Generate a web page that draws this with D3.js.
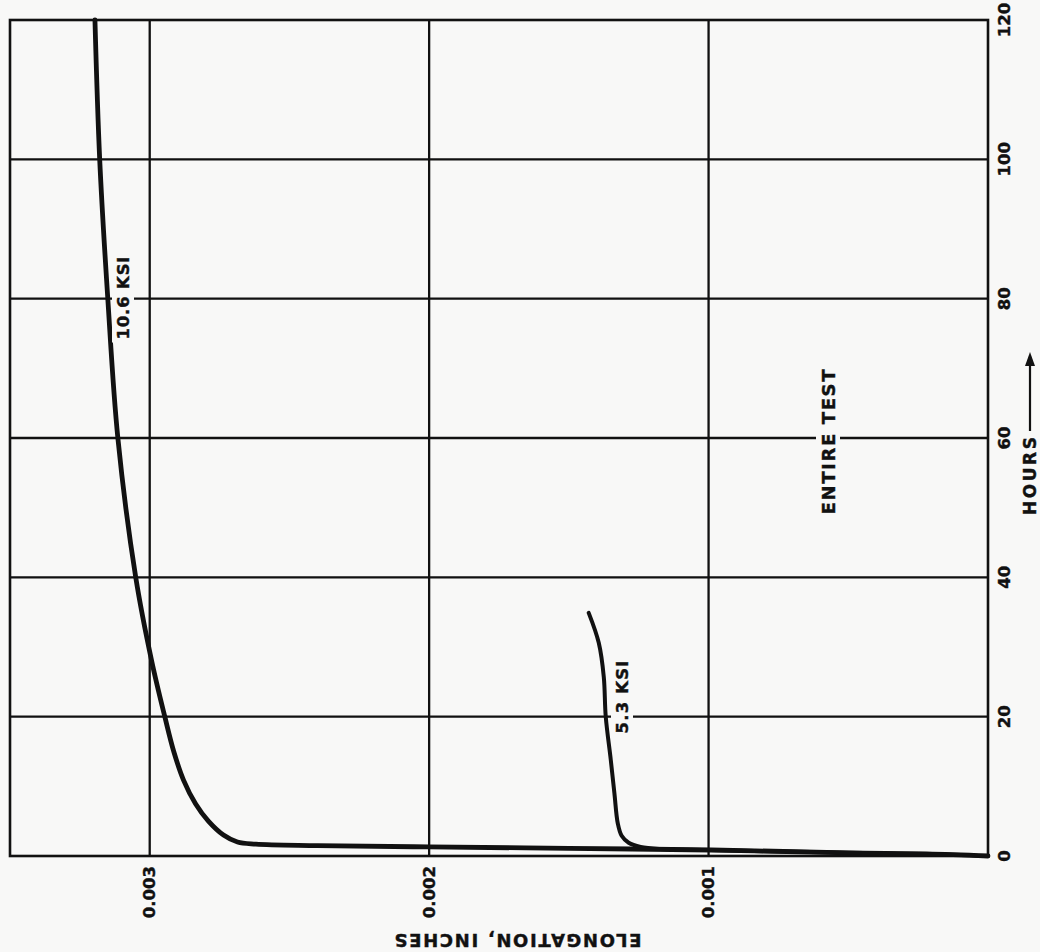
<!DOCTYPE html>
<html>
<head>
<meta charset="utf-8">
<script src="https://cdn.jsdelivr.net/npm/d3@7/dist/d3.min.js"></script>
<style>
  html, body { margin: 0; padding: 0; background: #f8f8f7; }
  svg { display: block; }
  text { font-family: "DejaVu Sans", "Liberation Sans", Arial, sans-serif; font-weight: bold; fill: #111; stroke: #111; stroke-width: 0.4px; }
</style>
</head>
<body>
<script>
// Creep test: elongation (inches) against time (hours), two stress levels.
const elongTicks = [0.003, 0.002, 0.001];
const elongTickLabels = ["0.003", "0.002", "0.001"];
const hourTicks = [0, 20, 40, 60, 80, 100, 120];
const hourTickLabels = ["0", "20", "40", "60", "80", "100", "120"];

// 10.6 KSI series
const elong106 = [0, 0.00022, 0.0005, 0.00099, 0.0015, 0.002, 0.0024, 0.00262,
                  0.002686, 0.002736, 0.00279, 0.002836, 0.002879, 0.002914, 0.002946,
                  0.002993, 0.003050, 0.003114, 0.003150, 0.003179, 0.003196];
const hours106  = [0, 0.3, 0.45, 0.86, 1.1, 1.3, 1.5, 1.7,
                   2.0, 3.0, 5.0, 7.5, 10.9, 15, 20,
                   28, 40, 60, 80, 100, 120];

// 5.3 KSI series
const elong53 = [0, 0.00022, 0.0005, 0.00099, 0.00117, 0.001243, 0.001286, 0.001311,
                 0.001325, 0.001337, 0.00135, 0.001368, 0.001375, 0.001393, 0.001429];
const hours53 = [0, 0.3, 0.45, 0.86, 1.0, 1.3, 1.9, 2.9,
                 4.7, 9.0, 13.8, 20, 25.7, 30.6, 34.9];

const W = 1040, H = 952;
const ink = "#111";
const bg = "#f8f8f7";

const svg = d3.select("body").append("svg").attr("width", W).attr("height", H);

const x = d3.scaleLinear().domain([0.0035, 0]).range([10, 988]);
const y = d3.scaleLinear().domain([0, 120]).range([856, 20]);

// grid
const grid = svg.append("g").attr("stroke", ink).attr("stroke-width", 2.3).attr("fill", "none");
grid.selectAll("line.v").data(elongTicks).join("line")
  .attr("x1", d => x(d)).attr("x2", d => x(d))
  .attr("y1", y(120)).attr("y2", y(0));
grid.selectAll("line.h").data(hourTicks.filter(h => h > 0 && h < 120)).join("line")
  .attr("x1", x(0.0035)).attr("x2", x(0))
  .attr("y1", d => y(d)).attr("y2", d => y(d));

// frame
svg.append("rect")
  .attr("x", x(0.0035)).attr("y", y(120))
  .attr("width", x(0) - x(0.0035)).attr("height", y(0) - y(120))
  .attr("fill", "none").attr("stroke", ink).attr("stroke-width", 2.6);

// curves
const line = d3.line().curve(d3.curveCatmullRom.alpha(0.5));
const pts106 = elong106.map((e, i) => [x(e), y(hours106[i])]);
const pts53 = elong53.map((e, i) => [x(e), y(hours53[i])]);
svg.append("path").attr("d", line(pts106))
  .attr("fill", "none").attr("stroke", ink).attr("stroke-width", 4.8)
  .attr("stroke-linecap", "round").attr("stroke-linejoin", "round");
svg.append("path").attr("d", line(pts53))
  .attr("fill", "none").attr("stroke", ink).attr("stroke-width", 4)
  .attr("stroke-linecap", "round").attr("stroke-linejoin", "round");

// labels drawn vertically inside the plot, with a gap cut in the grid behind them
function vLabel(cx, cy, txt, len, fs, gapW) {
  svg.append("rect")
    .attr("x", cx - gapW / 2).attr("y", cy - len / 2 - 3)
    .attr("width", gapW).attr("height", len + 6)
    .attr("fill", bg);
  svg.append("text")
    .attr("transform", `translate(${cx},${cy}) rotate(-90)`)
    .attr("text-anchor", "middle").attr("dominant-baseline", "central")
    .attr("font-size", fs)
    .attr("textLength", len).attr("lengthAdjust", "spacing")
    .text(txt);
}
vLabel(123, 298, "10.6 KSI", 83, 16.5, 22);
vLabel(622, 697, "5.3 KSI", 73, 16.5, 22);
vLabel(828, 442, "ENTIRE TEST", 145, 18, 24);

// hour tick labels (right side)
svg.append("g").selectAll("text").data(hourTicks).join("text")
  .attr("transform", d => `translate(1004,${y(d)}) rotate(-90)`)
  .attr("text-anchor", "middle").attr("dominant-baseline", "central")
  .attr("font-size", 16.5)
  .text((d, i) => hourTickLabels[i]);

// elongation tick labels (bottom)
svg.append("g").selectAll("text").data(elongTicks).join("text")
  .attr("transform", d => `translate(${x(d)},866) rotate(-90)`)
  .attr("text-anchor", "end").attr("dominant-baseline", "central")
  .attr("font-size", 16.5)
  .text((d, i) => elongTickLabels[i]);

// axis titles
svg.append("text")
  .attr("transform", "translate(518,940) rotate(180)")
  .attr("text-anchor", "middle").attr("dominant-baseline", "central")
  .attr("font-size", 18)
  .attr("textLength", 247).attr("lengthAdjust", "spacing")
  .text("ELONGATION, INCHES");

svg.append("text")
  .attr("transform", "translate(1030,515) rotate(-90)")
  .attr("text-anchor", "start").attr("dominant-baseline", "central")
  .attr("font-size", 17)
  .attr("textLength", 78).attr("lengthAdjust", "spacing")
  .text("HOURS");

// arrow after HOURS
svg.append("line")
  .attr("x1", 1030).attr("x2", 1030).attr("y1", 431).attr("y2", 362)
  .attr("stroke", ink).attr("stroke-width", 2.2);
svg.append("path")
  .attr("d", "M1030,352 L1025,366 L1035,366 Z")
  .attr("fill", ink);
</script>
</body>
</html>
